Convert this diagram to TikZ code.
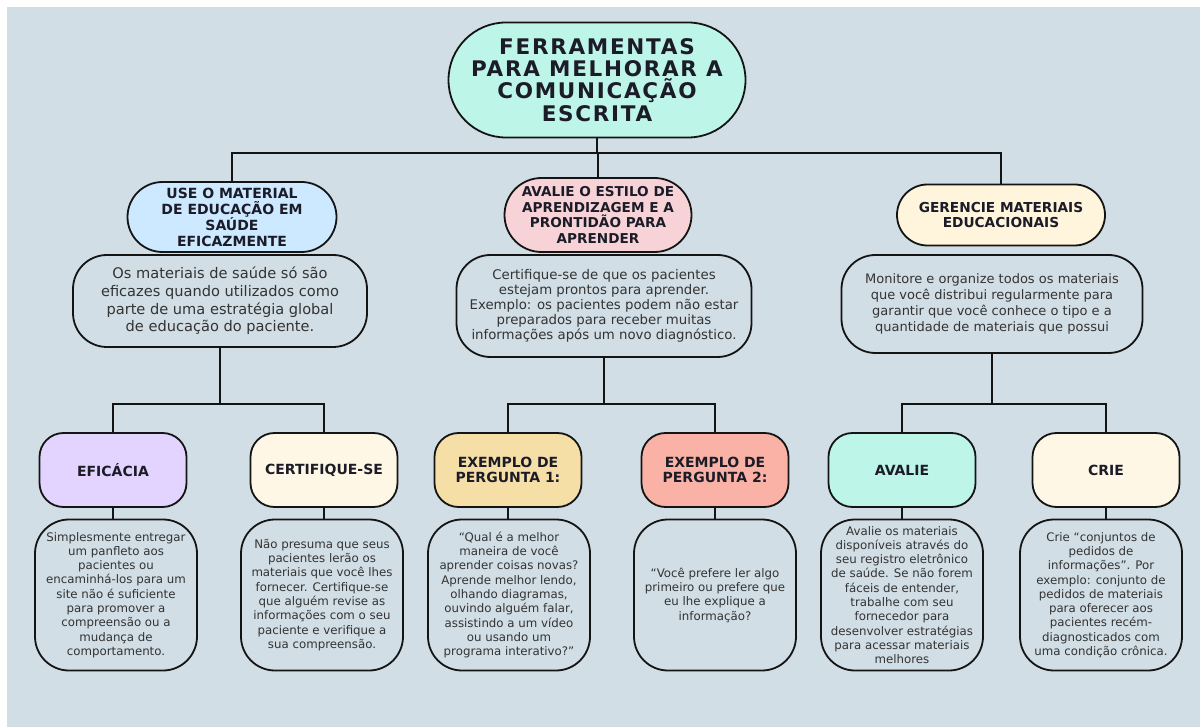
\documentclass[tikz,border=0pt]{standalone}
\usepackage{fontspec}
\setmainfont{DejaVu Sans}
\usetikzlibrary{shapes.misc}
\definecolor{bg}{HTML}{D1DEE5}
\definecolor{lnc}{HTML}{141414}
\definecolor{headc}{HTML}{1C1C28}
\definecolor{bodyc}{HTML}{333333}
\definecolor{mint}{HTML}{BDF5E8}
\definecolor{skyblue}{HTML}{CDE9FF}
\definecolor{rosepink}{HTML}{F7D3D8}
\definecolor{cream}{HTML}{FFF4DC}
\definecolor{lavender}{HTML}{E3D4FF}
\definecolor{wheat}{HTML}{F6DFA6}
\definecolor{salmon}{HTML}{F9B2A5}
\begin{document}
\begin{tikzpicture}[x=1pt,y=-1pt,
	pill/.style={rounded rectangle,draw=lnc,line width=1.8pt,inner sep=0pt,align=center,text=headc,font=\bfseries\fontsize{13.6}{15.5}\selectfont},
	descbox/.style={rectangle,rounded corners=34pt,draw=lnc,line width=1.8pt,fill=bg,inner sep=0pt,align=center,text=bodyc},
	subbox/.style={rectangle,rounded corners=24pt,draw=lnc,line width=1.8pt,inner sep=0pt,minimum width=147pt,minimum height=74pt,align=center,text=headc,font=\bfseries\fontsize{14}{15}\selectfont},
	txtbox/.style={rectangle,rounded corners=34pt,draw=lnc,line width=1.8pt,fill=bg,inner sep=0pt,minimum width=162pt,minimum height=151pt,align=center,text=bodyc,font=\fontsize{11.8}{14.3}\selectfont},
	conn/.style={draw=lnc,line width=2pt}]
	\useasboundingbox (0,0) rectangle (1200,727);
	\fill[white] (0,0) rectangle (1200,727);
	\fill[bg] (7,7) rectangle (1200,727);
	
	\node[pill,fill=mint,minimum width=297pt,minimum height=115pt,font=\bfseries\fontsize{21.5}{22.2}\selectfont\addfontfeature{LetterSpace=8}] (title) at (597,80) {FERRAMENTAS\\PARA MELHORAR A\\COMUNICAÇÃO\\ESCRITA};
	
	\node[pill,fill=skyblue,minimum width=209pt,minimum height=70pt,font=\bfseries\fontsize{14}{16}\selectfont] (use) at (232,217) {USE O MATERIAL\\DE EDUCAÇÃO EM\\SAÚDE\\EFICAZMENTE};
	\node[pill,fill=rosepink,minimum width=187pt,minimum height=74pt] (aval) at (598,215) {AVALIE O ESTILO DE\\APRENDIZAGEM E A\\PRONTIDÃO PARA\\APRENDER};
	\node[pill,fill=cream,minimum width=208pt,minimum height=61pt,font=\bfseries\fontsize{13.7}{15}\selectfont] (ger) at (1001,215) {GERENCIE MATERIAIS\\EDUCACIONAIS};
	
	\node[descbox,minimum width=294pt,minimum height=92pt,font=\fontsize{14.6}{17.7}\selectfont] (usedesc) at (220,301) {Os materiais de saúde só são\\eficazes quando utilizados como\\parte de uma estratégia global\\de educação do paciente.};
	\node[descbox,minimum width=295pt,minimum height=102pt,font=\fontsize{13.3}{15}\selectfont] (avaldesc) at (604,306) {Certifique-se de que os pacientes\\estejam prontos para aprender.\\Exemplo: os pacientes podem não estar\\preparados para receber muitas\\informações após um novo diagnóstico.};
	\node[descbox,minimum width=301pt,minimum height=98pt,font=\fontsize{13}{16}\selectfont] (gerdesc) at (992,304) {Monitore e organize todos os materiais\\que você distribui regularmente para\\garantir que você conhece o tipo e a\\quantidade de materiais que possui};
	
	\node[subbox,fill=lavender] (efic) at (113,470) {EFICÁCIA};
	\node[subbox,fill=cream!70] (cert) at (324,470) {CERTIFIQUE-SE};
	\node[subbox,fill=wheat] (exone) at (508,470) {EXEMPLO DE\\PERGUNTA 1:};
	\node[subbox,fill=salmon] (extwo) at (715,470) {EXEMPLO DE\\PERGUNTA 2:};
	\node[subbox,fill=mint] (avalie) at (902,470) {AVALIE};
	\node[subbox,fill=cream!70] (crie) at (1106,470) {CRIE};
	
	\node[txtbox] (eficTxt) at (116,595) {Simplesmente entregar\\um panfleto aos\\pacientes ou\\encaminhá-los para um\\site não é suficiente\\para promover a\\compreensão ou a\\mudança de\\comportamento.};
	\node[txtbox] (certTxt) at (322,595) {Não presuma que seus\\pacientes lerão os\\materiais que você lhes\\fornecer. Certifique-se\\que alguém revise as\\informações com o seu\\paciente e verifique a\\sua compreensão.};
	\node[txtbox] (exoneTxt) at (509,595) {“Qual é a melhor\\maneira de você\\aprender coisas novas?\\Aprende melhor lendo,\\olhando diagramas,\\ouvindo alguém falar,\\assistindo a um vídeo\\ou usando um\\programa interativo?”};
	\node[txtbox] (extwoTxt) at (715,595) {“Você prefere ler algo\\primeiro ou prefere que\\eu lhe explique a\\informação?};
	\node[txtbox] (avalieTxt) at (902,595) {Avalie os materiais\\disponíveis através do\\seu registro eletrônico\\de saúde. Se não forem\\fáceis de entender,\\trabalhe com seu\\fornecedor para\\desenvolver estratégias\\para acessar materiais\\melhores};
	\node[txtbox] (crieTxt) at (1101,595) {Crie “conjuntos de\\pedidos de\\informações”. Por\\exemplo: conjunto de\\pedidos de materiais\\para oferecer aos\\pacientes recém-\\diagnosticados com\\uma condição crônica.};
	
	\coordinate (topbus) at (0,153);
	\coordinate (lowbus) at (0,404);
	\draw[conn] (title.south) -- (title.south |- topbus);
	\draw[conn] (use.north) |- (ger.north |- topbus) -- (ger.north);
	\draw[conn] (aval.north) -- (aval.north |- topbus);
	
	\draw[conn] (usedesc.south) -- (usedesc.south |- lowbus);
	\draw[conn] (efic.north) |- (cert.north |- lowbus) -- (cert.north);
	\draw[conn] (avaldesc.south) -- (avaldesc.south |- lowbus);
	\draw[conn] (exone.north) |- (extwo.north |- lowbus) -- (extwo.north);
	\draw[conn] (gerdesc.south) -- (gerdesc.south |- lowbus);
	\draw[conn] (avalie.north) |- (crie.north |- lowbus) -- (crie.north);
	
	\draw[conn] (efic.south) -- (efic.south |- eficTxt.north);
	\draw[conn] (cert.south) -- (cert.south |- certTxt.north);
	\draw[conn] (exone.south) -- (exone.south |- exoneTxt.north);
	\draw[conn] (extwo.south) -- (extwo.south |- extwoTxt.north);
	\draw[conn] (avalie.south) -- (avalie.south |- avalieTxt.north);
	\draw[conn] (crie.south) -- (crie.south |- crieTxt.north);
\end{tikzpicture}
\end{document}
